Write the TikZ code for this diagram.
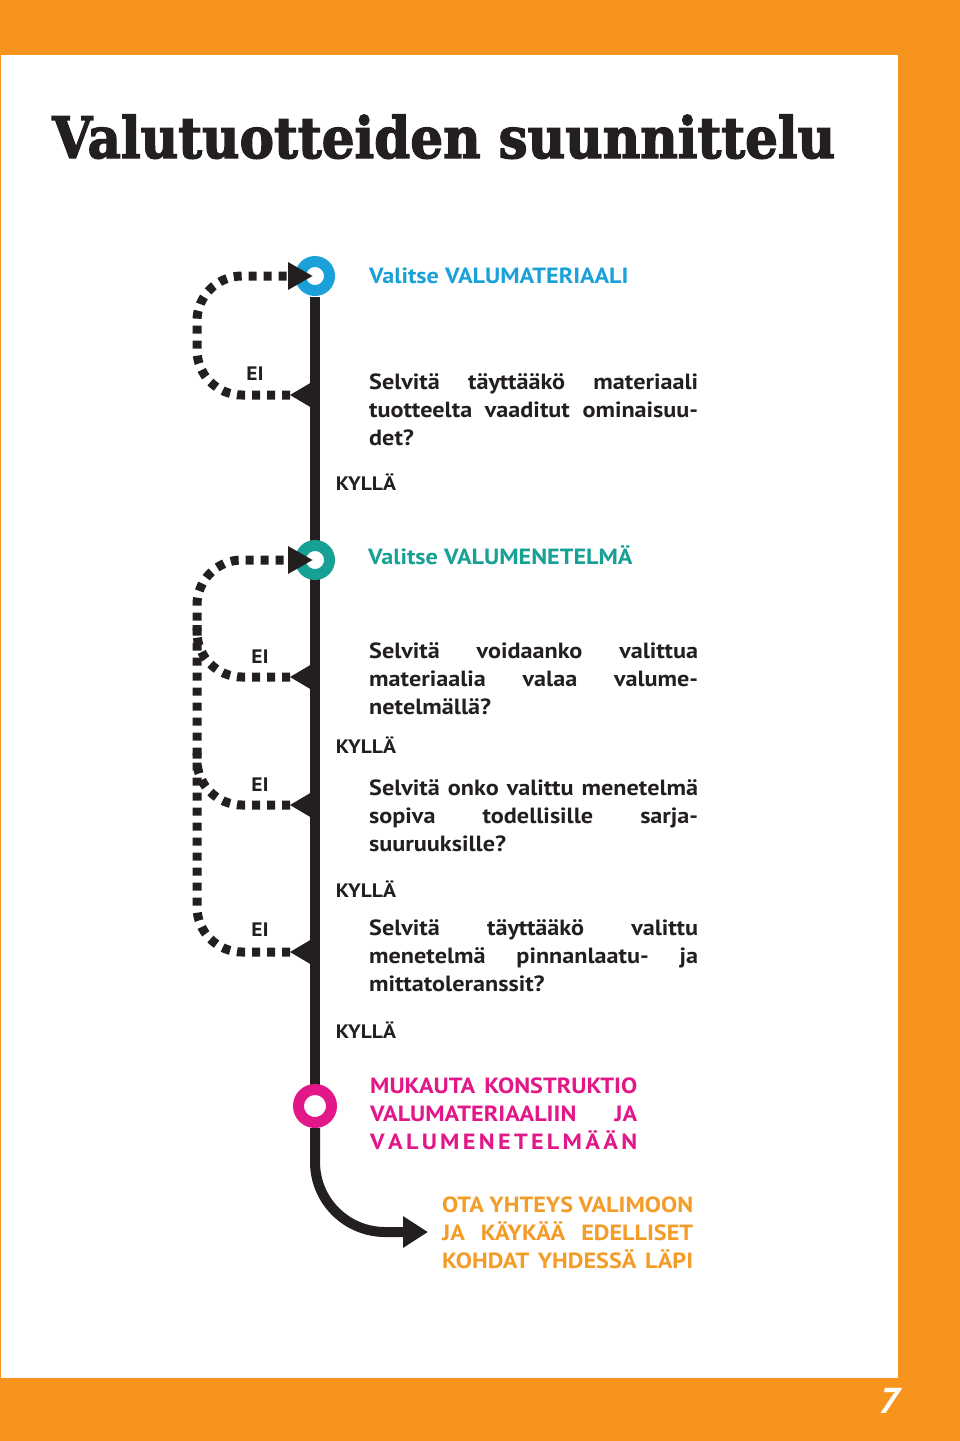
\documentclass[tikz,border=0pt]{standalone}
\usepackage{fontspec}
\usepackage{graphicx}
\usetikzlibrary{arrows.meta}
\setmainfont{PT Sans}[FakeStretch=1.1]
\newfontfamily\titlefont{DejaVu Serif}[FakeBold=2.5]
\definecolor{barorange}{HTML}{F7941D}
\definecolor{vblue}{HTML}{1BA1DA}
\definecolor{vteal}{HTML}{17A096}
\definecolor{vpink}{HTML}{E2178A}
\definecolor{torange}{HTML}{F39C28}
\definecolor{ink}{HTML}{231F20}
\newcommand{\jl}[1]{\makebox[\linewidth][s]{#1}\par}
\tikzset{
  body/.style={font=\fontsize{22}{28}\selectfont\bfseries, inner sep=0pt, text=ink, anchor=base west},
  head/.style={font=\fontsize{22}{28}\selectfont\bfseries, inner sep=0pt, anchor=base west},
  small/.style={font=\fontsize{19.5}{22}\selectfont\bfseries, inner sep=0pt, text=ink},
  ring/.style={circle, draw=#1, line width=11pt, fill=white, minimum size=29pt, inner sep=0pt},
  mainline/.style={draw=ink, line width=10pt},
  dashloop/.style={draw=ink, line width=9pt, dash pattern=on 8pt off 7pt, rounded corners=45pt,
    -{Triangle[length=25pt,width=26pt]}},
  dashbranch/.style={draw=ink, line width=9pt, dash pattern=on 8pt off 7pt, rounded corners=45pt},
  marker/.style={fill=ink}
}
\begin{document}
\begin{tikzpicture}[x=1pt,y=-1pt]
\fill[barorange] (0,0) rectangle (960,1441);
\fill[white] (1,55) rectangle (898,1378);
\useasboundingbox (0,0) rectangle (960,1441);

% title
\node[inner sep=0pt, anchor=base west, text=ink] (title) at (52,158)
  {\resizebox{783pt}{\height}{\titlefont\bfseries\fontsize{57}{60}\selectfont Valutuotteiden suunnittelu}};

% page number
\node[inner sep=0pt, text=white, font=\fontsize{36}{36}\selectfont\bfseries\itshape] (page) at (889,1401) {7};

% main line
\draw[mainline] (315,297) -- (315,1090);

% rings
\node[ring=vblue] (c1) at (315,276) {};
\node[ring=vteal] (c2) at (315,560) {};
\node[ring=vpink, minimum size=33pt] (c3) at (315,1106) {};

% final arrow
\coordinate (fin) at (428,1232);
\draw[mainline, rounded corners=70pt, -{Triangle[length=25pt,width=30pt]}] (c3.south) |- (fin);

% markers on main line
\coordinate (q1) at (290,395);
\coordinate (q2) at (290,677);
\coordinate (q3) at (290,805);
\coordinate (q4) at (290,952);
\foreach \q in {q1,q2,q3,q4}{
  \fill[marker] (\q) -- ++(22,-13) -- ++(0,26) -- cycle;
}

% arrow targets
\coordinate (a1) at (313,276);
\coordinate (a2) at (313,560);

% dashed loops
\draw[dashloop] (q1) -- (197,395) -- (197,276) -- (a1);
\draw[dashloop] (q4) -- (197,952) -- (197,560) -- (a2);
\draw[dashbranch] (q2) -- (197,677) -- (197,625);
\draw[dashbranch] (q3) -- (197,805) -- (197,753);

% EI labels
\node[small] (ei1) at (255,374) {EI};
\node[small] (ei2) at (260,657) {EI};
\node[small] (ei3) at (260,785) {EI};
\node[small] (ei4) at (260,930) {EI};

% KYLLÄ labels
\node[small] (k1) at (366,482) {KYLLÄ};
\node[small] (k2) at (366,745) {KYLLÄ};
\node[small] (k3) at (366,889) {KYLLÄ};
\node[small] (k4) at (366,1030) {KYLLÄ};

% headings
\node[head, text=vblue] (h1) at (369,283) {Valitse VALUMATERIAALI};
\node[head, text=vteal] (h2) at (368,564) {Valitse VALUMENETELMÄ};

% question blocks
\node[body] (b1) at (369,389) {\parbox[t]{329pt}{\jl{Selvitä täyttääkö materiaali}\jl{tuotteelta vaaditut ominaisuu-}det?}};
\node[body] (b2) at (369,658) {\parbox[t]{329pt}{\jl{Selvitä voidaanko valittua}\jl{materiaalia valaa valume-}netelmällä?}};
\node[body] (b3) at (369,795) {\parbox[t]{329pt}{\jl{Selvitä onko valittu menetelmä}\jl{sopiva todellisille sarja-}suuruuksille?}};
\node[body] (b4) at (369,935) {\parbox[t]{329pt}{\jl{Selvitä täyttääkö valittu}\jl{menetelmä pinnanlaatu- ja}mittatoleranssit?}};

% pink block
\node[body, text=vpink] (p1) at (370,1093) {\parbox[t]{267pt}{\jl{MUKAUTA KONSTRUKTIO}\jl{VALUMATERIAALIIN JA}\jl{V\hfill A\hfill L\hfill U\hfill M\hfill E\hfill N\hfill E\hfill T\hfill E\hfill L\hfill M\hfill Ä\hfill Ä\hfill N}}};

% orange block
\node[body, text=torange] (o1) at (442,1212) {\parbox[t]{251pt}{\jl{OTA YHTEYS VALIMOON}\jl{JA KÄYKÄÄ EDELLISET}\jl{KOHDAT YHDESSÄ LÄPI}}};
\end{tikzpicture}
\end{document}
